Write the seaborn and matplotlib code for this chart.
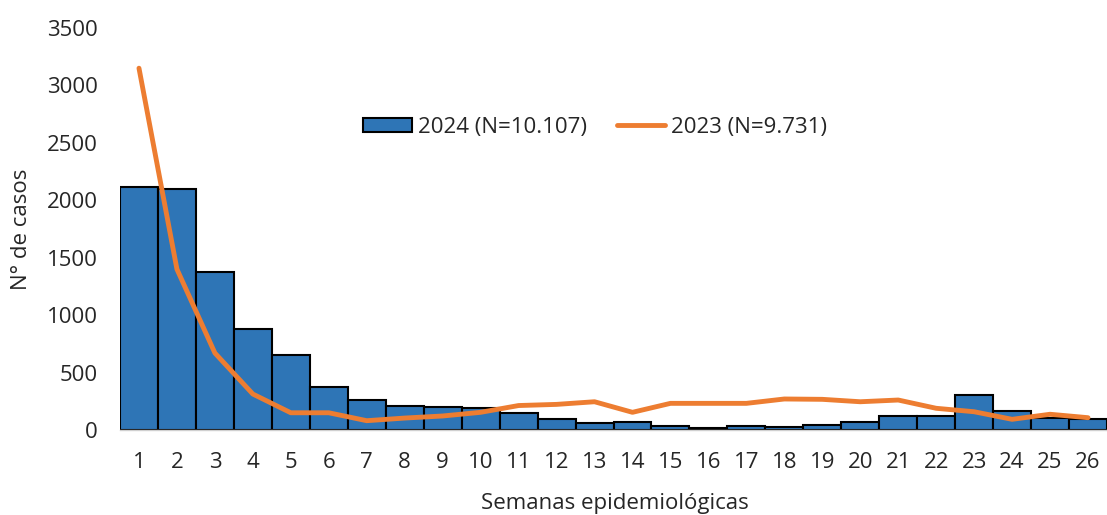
import numpy as np
import pandas as pd
import matplotlib
matplotlib.use("Agg")
import matplotlib.pyplot as plt
import seaborn as sns
from matplotlib.patches import Patch
from matplotlib.lines import Line2D

semanas = list(range(1, 27))
casos_2024 = [2115, 2097, 1375, 879, 653, 374, 261, 211, 198, 191, 145, 98, 58,
              70, 37, 20, 35, 23, 46, 67, 122, 122, 307, 165, 102, 100]
casos_2023 = [3150, 1400, 670, 313, 150, 150, 81, 104, 122, 154, 213, 223, 246,
              154, 232, 232, 232, 270, 267, 246, 261, 189, 159, 93, 137, 107]
etiqueta_2024 = "2024 (N=10.107)"
etiqueta_2023 = "2023 (N=9.731)"
y_ticks = [0, 500, 1000, 1500, 2000, 2500, 3000, 3500]

sns.set_theme(style="white")
plt.rcParams["font.family"] = ["Open Sans", "DejaVu Sans"]

df = pd.DataFrame({
    "semana": [str(s) for s in semanas],
    "c2024": casos_2024,
    "c2023": casos_2023,
})

W, H = 1107, 515
fig = plt.figure(figsize=(W / 100, H / 100), dpi=100)
ax = fig.add_axes([120 / W, 1 - 430 / H, 1 - 120 / W, (430 - 28) / H])

azul = "#2E75B6"
naranja = "#ED7D31"
texto = "#262626"
fs = 16

sns.barplot(data=df, x="semana", y="c2024", color=azul, width=1.0,
            edgecolor="black", linewidth=1.5, saturation=1, ax=ax)
sns.lineplot(x=np.arange(len(semanas)), y=df["c2023"], color=naranja,
             linewidth=3.5, ax=ax, solid_capstyle="round", solid_joinstyle="round")

ax.set_xlim(-0.5, len(semanas) - 0.5)
ax.set_ylim(0, 3500)
ax.set_yticks(y_ticks)
ax.tick_params(axis="both", length=0, labelsize=fs, colors=texto)
ax.tick_params(axis="x", pad=16)
ax.tick_params(axis="y", pad=16)

for s in ["top", "right", "left"]:
    ax.spines[s].set_visible(False)
ax.spines["bottom"].set_color("#d0d0d0")
ax.spines["bottom"].set_linewidth(1.0)

ax.set_xlabel("Semanas epidemiológicas", fontsize=fs, color=texto)
ax.set_ylabel("N° de casos", fontsize=fs, color=texto)
ax.xaxis.set_label_coords(615 / W, 1 - 503 / H, transform=fig.transFigure)
ax.yaxis.set_label_coords(22 / W, 1 - 229 / H, transform=fig.transFigure)
ax.xaxis.label.set_va("center")
ax.yaxis.label.set_va("center")

handles = [
    Patch(facecolor=azul, edgecolor="black", linewidth=1.5, label=etiqueta_2024),
    Line2D([0], [0], color=naranja, linewidth=3.5, solid_capstyle="round",
           label=etiqueta_2023),
]
ax.legend(handles=handles, loc="center", bbox_to_anchor=(595 / W, 1 - 127 / H),
          bbox_transform=fig.transFigure, ncol=2, frameon=False, fontsize=fs,
          handlelength=2.2, handleheight=0.6, handletextpad=0.25,
          columnspacing=1.35, borderpad=0)

fig.savefig("out.png", dpi=100)
